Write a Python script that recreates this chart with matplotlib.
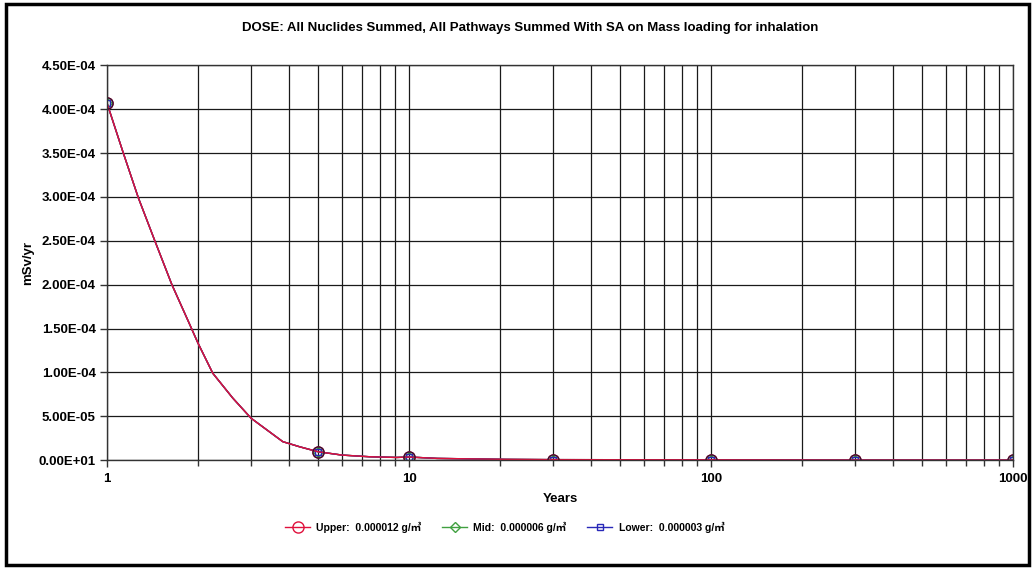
import matplotlib
matplotlib.use("Agg")
import matplotlib.pyplot as plt
from matplotlib.patches import Rectangle
from matplotlib.ticker import FixedLocator, NullFormatter, FuncFormatter

plt.rcParams['font.family'] = ['Liberation Sans', 'Noto Sans CJK KR', 'DejaVu Sans']
plt.rcParams['font.weight'] = 'bold'

# values (years, mSv/yr)
years = [1, 1.13, 1.27, 1.44, 1.64, 1.86, 2.0, 2.24, 2.61, 3.0, 3.82, 4.34,
         5, 6.0, 7.4, 9.1, 10, 12.4, 20.9, 30, 100, 300, 1000]
dose = [4.07e-4, 3.51e-4, 2.99e-4, 2.50e-4, 2.00e-4, 1.58e-4, 1.335e-4,
        0.99e-4, 0.706e-4, 0.477e-4, 0.21e-4, 0.152e-4,
        0.95e-5, 0.57e-5, 0.38e-5, 0.30e-5, 0.35e-5, 0.19e-5, 0.8e-6,
        0.5e-6, 0.3e-6, 0.0, 0.0]
marker_years = [1, 5, 10, 30, 100, 300, 1000]

series_labels = ["Upper:  0.000012 g/\u33a5",
                 "Mid:  0.000006 g/\u33a5",
                 "Lower:  0.000003 g/\u33a5"]
series_colors = ["#e0103c", "#40a040", "#2828b8"]
series_markers = ["o", "D", "s"]
series_ms = [8, 5, 5]

y_ticks = [i * 5e-5 for i in range(10)]
y_ticklabels = ["0.00E+01", "5.00E-05", "1.00E-04", "1.50E-04", "2.00E-04",
                "2.50E-04", "3.00E-04", "3.50E-04", "4.00E-04", "4.50E-04"]

fig = plt.figure(figsize=(10.32, 5.68), dpi=100)
ax = fig.add_axes([0.1037, 0.190, 0.8779, 0.6948])

mark_idx = [years.index(m) for m in marker_years]
for lab, col, mk, ms in zip(series_labels, series_colors, series_markers, series_ms):
    ax.plot(years, dose, color=col, lw=1.0, marker=mk, markevery=mark_idx,
            ms=ms, mfc='none', mec=col, mew=1.0,
            label=lab, zorder=3)
# the reference shows the red curve on top; markers end up dark where they overlap
ax.plot(years, dose, color=series_colors[0], lw=1.0, zorder=4)
ax.plot(marker_years, [dose[i] for i in mark_idx], ls='none', marker='o',
        ms=8, mfc='none', mec='#3a1030', mew=1.0, zorder=4)

ax.set_xscale('log')
ax.set_xlim(1, 1000)
ax.set_ylim(0, 4.5e-4)
ax.yaxis.set_major_locator(FixedLocator(y_ticks))
ax.set_yticklabels(y_ticklabels)
ax.xaxis.set_major_formatter(FuncFormatter(lambda v, p: "%d" % v))
ax.xaxis.set_minor_formatter(NullFormatter())

ax.grid(True, which='both', axis='x', color='#1a1a1a', lw=0.9)
ax.grid(True, which='major', axis='y', color='#1a1a1a', lw=0.9)
ax.set_axisbelow(True)
for s in ax.spines.values():
    s.set_color('#333333')
    s.set_linewidth(1.0)
    s.set_zorder(5)

ax.tick_params(axis='both', which='major', direction='out', length=5,
               width=1, color='#333333', labelsize=9.5)
ax.tick_params(axis='x', which='minor', direction='out', length=4,
               width=1, color='#333333')
ax.tick_params(axis='x', which='major', pad=4)
ax.tick_params(axis='y', which='major', pad=3)

ax.set_xlabel("Years", fontsize=9.5, fontweight='bold', labelpad=6)
ax.set_ylabel("mSv/yr", fontsize=9.5, fontweight='bold', labelpad=3)
fig.text(0.5136, 0.951,
         "DOSE: All Nuclides Summed, All Pathways Summed With SA on Mass loading for inhalation",
         fontsize=9.5, fontweight='bold', ha='center', va='center')

leg = fig.legend(loc='center', bbox_to_anchor=(0.489, 0.072), ncol=3,
                 frameon=False, fontsize=7.5, handlelength=2.4,
                 columnspacing=2.0, handletextpad=0.6)
for txt in leg.get_texts():
    txt.set_fontweight('bold')

fig.patches.append(Rectangle((0.006, 0.005), 0.991, 0.988,
                             transform=fig.transFigure, fill=False,
                             edgecolor='black', lw=2.5))

fig.savefig("out.png", dpi=100)
